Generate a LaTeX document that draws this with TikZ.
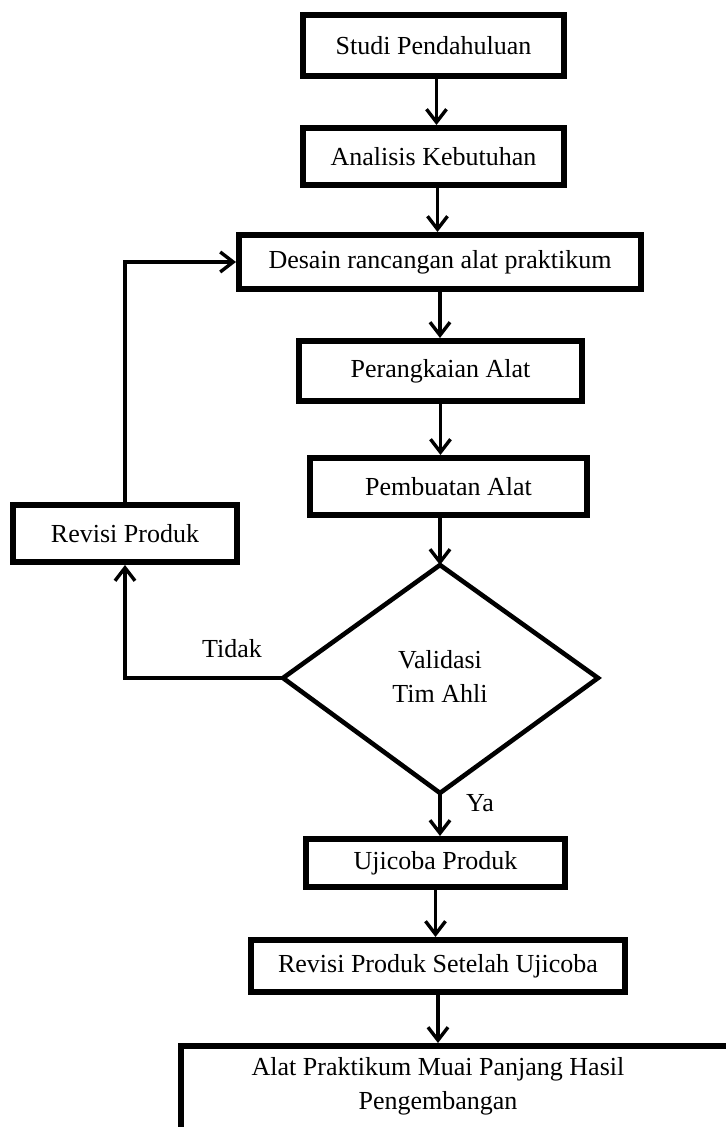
\documentclass[tikz,border=0pt]{standalone}
\usepackage{fontspec}
\setmainfont{Liberation Serif}
\usetikzlibrary{arrows.meta}
\begin{document}
\begin{tikzpicture}[x=0.5pt,y=-0.5pt,
  txt/.style={font=\fontsize{13}{17}\selectfont},
  stepbox/.style={draw, line width=3pt, inner sep=0pt, txt},
  arr/.style={line width=1.7pt, -{Straight Barb[length=6.5pt,width=10pt,line width=1.7pt]}},
  lbl/.style={inner sep=0pt, txt}]
\useasboundingbox (0,0) rectangle (726,1127);
\clip (0,0) rectangle (726,1127);
\node[stepbox, minimum width=130.5pt, minimum height=30.5pt] (s1) at (433.5,45.5) {Studi Pendahuluan};
\node[stepbox, minimum width=130.5pt, minimum height=28.5pt] (s2) at (433.5,156.5) {Analisis Kebutuhan};
\node[stepbox, minimum width=201pt, minimum height=27pt] (s3) at (440,262) {Desain rancangan alat praktikum};
\node[stepbox, minimum width=141.5pt, minimum height=30pt] (s4) at (440.5,371) {Perangkaian Alat};
\node[stepbox, minimum width=138.5pt, minimum height=28.5pt] (s5) at (448.5,486.5) {Pembuatan Alat};
\node[stepbox, minimum width=112pt, minimum height=28.5pt] (rev) at (125,533.5) {Revisi Produk};
\coordinate (dt) at (440,565);
\coordinate (db) at (440,793);
\coordinate (dl) at (283,678);
\coordinate (dr) at (598,678);
\draw[line width=2.3pt, line join=miter] (dt) -- (dr) -- (db) -- (dl) -- cycle;
\node[lbl, align=center] (dtext) at (440,676) {Validasi\\Tim Ahli};
\node[stepbox, minimum width=129.5pt, minimum height=24pt] (s6) at (435.5,863) {Ujicoba Produk};
\node[stepbox, minimum width=187pt, minimum height=26pt] (s7) at (438,966) {Revisi Produk Setelah Ujicoba};
\node[draw, line width=3pt, anchor=north west, minimum width=300pt, minimum height=60pt] (s8) at (178,1043) {};
\node[lbl, align=center] (s8t) at (438,1086) {Alat Praktikum Muai Panjang Hasil\\Pengembangan};
\node[lbl] (tidak) at (232,649) {Tidak};
\node[lbl] (ya) at (480,803) {Ya};
\draw[arr] ([xshift=1.5pt]s1.south) -- ([xshift=1.5pt]s1.south |- s2.north);
\draw[arr] ([xshift=2pt]s2.south) -- ([xshift=2pt]s2.south |- s3.north);
\draw[arr] (s3.south) -- (s3.south |- s4.north);
\draw[arr] (s4.south) -- (s4.south |- s5.north);
\draw[arr] (dt |- s5.south) -- (dt);
\draw[arr] (db) -- (db |- s6.north);
\draw[arr] (s6.south) -- (s6.south |- s7.north);
\draw[arr] (s7.south) -- (s7.south |- s8.north);
\draw[arr] (dl) -| (rev.south);
\draw[arr] (rev.north) |- (s3.west);
\end{tikzpicture}
\end{document}
